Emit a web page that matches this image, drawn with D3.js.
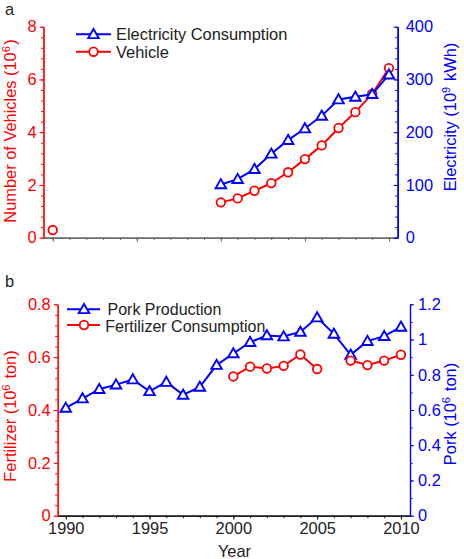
<!DOCTYPE html>
<html><head><meta charset="utf-8">
<script src="https://cdn.jsdelivr.net/npm/d3@7"></script>
<style>
body{margin:0;background:#fff;}
text{font-family:"Liberation Sans",Arial,sans-serif;}
</style></head>
<body><svg id="c" width="464" height="559"></svg>
<script>
// ---- data ----
const years = d3.range(1990, 2011);
const vehicleYears = [1990, 2000, 2001, 2002, 2003, 2004, 2005, 2006, 2007, 2008, 2009, 2010];
const vehicles = [0.29, 1.34, 1.49, 1.78, 2.07, 2.48, 2.98, 3.5, 4.16, 4.76, 5.45, 6.43];
const elecYears = [2000, 2001, 2002, 2003, 2004, 2005, 2006, 2007, 2008, 2009, 2010];
const electricity = [101, 111, 130, 159, 185, 207, 231, 262, 267, 272, 309];
const porkYears = years;
const pork = [0.612, 0.665, 0.718, 0.744, 0.773, 0.706, 0.759, 0.686, 0.731, 0.855, 0.921, 0.985, 1.023, 1.017, 1.043, 1.125, 1.032, 0.913, 0.991, 1.019, 1.072];
const fertYears = [2000, 2001, 2002, 2003, 2004, 2005, 2006, 2007, 2008, 2009, 2010];
const fertilizer = [0.527, 0.564, 0.557, 0.567, 0.610, 0.555, null, 0.587, 0.570, 0.587, 0.609];
const vehTicks = [0, 2, 4, 6, 8];
const elecTicks = [0, 100, 200, 300, 400];
const fertTicks = [0, 0.2, 0.4, 0.6, 0.8];
const porkTicks = [0, 0.2, 0.4, 0.6, 0.8, 1, 1.2];
const yearTicks = [1990, 1995, 2000, 2005, 2010];

const RED = "#ff0000", BLUE = "#0000ff";
const svg = d3.select("#c");
const fmt = d => String(+d.toFixed(2));
const FS = "16.4px";

function tri(g, pts, color) {
  g.selectAll(null).data(pts).enter().append("path")
    .attr("d", d3.symbol(d3.symbolTriangle, 48)())
    .attr("transform", d => `translate(${d[0]},${d[1]+0.8})`)
    .attr("fill", "#fff").attr("stroke", color).attr("stroke-width", 1.9);
}
function circ(g, pts, color) {
  g.selectAll(null).data(pts).enter().append("circle")
    .attr("cx", d => d[0]).attr("cy", d => d[1]).attr("r", 4.3)
    .attr("fill", "#fff").attr("stroke", color).attr("stroke-width", 1.8);
}
function styleAxis(g, color, fontColor) {
  g.selectAll("path.domain").attr("stroke", color).attr("stroke-width", 1.2);
  g.selectAll(".tick line").attr("stroke", color).attr("stroke-width", 1);
  g.selectAll("text").attr("fill", fontColor).style("font-size", FS)
    .style("font-family", '"Liberation Sans",Arial,sans-serif');
}
function minor(lo, hi, step) {
  const out = []; for (let v = lo; v <= hi + 1e-9; v += step) out.push(+v.toFixed(4)); return out;
}
function ytitle(x, y, parts, color) {
  const t = svg.append("text").attr("transform", `translate(${x},${y}) rotate(-90)`)
    .attr("text-anchor", "middle").attr("fill", color).style("font-size", FS);
  parts.forEach(p => {
    if (p.sup) {
      t.append("tspan").attr("dy", -6).style("font-size", "11px").text(p.t);
      t.append("tspan").attr("dy", 6).text("\u200a");
    } else t.append("tspan").text(p.t);
  });
}

// ---------------- Panel a ----------------
const xA = d3.scaleLinear().domain([1989.45, 2010.52]).range([43.5, 397.7]);
const yA = d3.scaleLinear().domain([0, 8]).range([237.7, 26.7]);
const yE = d3.scaleLinear().domain([0, 400]).range([237.7, 26.7]);

const gxA = svg.append("g").attr("transform", `translate(0,${yA(0)})`);
gxA.call(d3.axisBottom(xA).tickValues(years).tickSize(2.5).tickSizeOuter(0).tickFormat(""));
gxA.append("g").call(d3.axisBottom(xA).tickValues(yearTicks).tickSize(4).tickSizeOuter(0).tickFormat(""));
styleAxis(gxA, "#666", "#666");

const gyA = svg.append("g").attr("transform", `translate(${xA.range()[0]},0)`);
gyA.call(d3.axisLeft(yA).tickValues(minor(0, 8, 0.4)).tickSize(2.5).tickSizeOuter(0).tickFormat(""));
gyA.append("g").call(d3.axisLeft(yA).tickValues(vehTicks).tickSize(4).tickSizeOuter(0).tickPadding(3).tickFormat(fmt));
styleAxis(gyA, RED, RED);

const gyE = svg.append("g").attr("transform", `translate(${xA.range()[1]},0)`);
gyE.call(d3.axisLeft(yE).tickValues(minor(0, 400, 20)).tickSize(2.5).tickSizeOuter(0).tickFormat(""));
gyE.append("g").call(d3.axisRight(yE).tickValues(elecTicks).tickSize(0).tickSizeOuter(0).tickPadding(8).tickFormat(fmt));
gyE.append("g").call(d3.axisLeft(yE).tickValues(elecTicks).tickSize(4).tickSizeOuter(0).tickFormat(""));
styleAxis(gyE, BLUE, BLUE);

const line = d3.line().defined(d => d[1] != null);
const elecPts = elecYears.map((y, i) => [xA(y), yE(electricity[i])]);
const vehPts = vehicleYears.map((y, i) => [xA(y), yA(vehicles[i])]);
const vehLinePts = vehPts.slice(1);
const pA = svg.append("g");
pA.append("path").attr("d", line(vehLinePts)).attr("fill", "none").attr("stroke", RED).attr("stroke-width", 2);
circ(pA, vehPts, RED);
pA.append("path").attr("d", line(elecPts)).attr("fill", "none").attr("stroke", BLUE).attr("stroke-width", 2);
tri(pA, elecPts, BLUE);

const lgA = svg.append("g");
lgA.append("line").attr("x1", 76).attr("x2", 111).attr("y1", 34.3).attr("y2", 34.3).attr("stroke", BLUE).attr("stroke-width", 2);
tri(lgA, [[93.5, 34.3]], BLUE);
lgA.append("text").attr("x", 116).attr("y", 40).attr("fill", "#222").style("font-size", FS).text("Electricity Consumption");
lgA.append("line").attr("x1", 76).attr("x2", 111).attr("y1", 51.7).attr("y2", 51.7).attr("stroke", RED).attr("stroke-width", 2);
circ(lgA, [[93.5, 51.7]], RED);
lgA.append("text").attr("x", 116).attr("y", 57.5).attr("fill", "#222").style("font-size", FS).text("Vehicle");

ytitle(15.5, 131, [{t: "Number of Vehicles (10"}, {t: "6", sup: true}, {t: ")"}], RED);
ytitle(455.5, 117, [{t: "Electricity (10"}, {t: "9", sup: true}, {t: " kWh)"}], BLUE);
svg.append("text").attr("x", 5).attr("y", 15).attr("fill", "#222").style("font-size", FS).text("a");

// ---------------- Panel b ----------------
const xB = d3.scaleLinear().domain([1989.52, 2010.54]).range([57.7, 410]);
const yF = d3.scaleLinear().domain([0, 0.8]).range([515.7, 304.3]);
const yP = d3.scaleLinear().domain([0, 1.2]).range([515.7, 304.3]);

const gxB = svg.append("g").attr("transform", `translate(0,${yF(0)})`);
gxB.call(d3.axisBottom(xB).tickValues(years).tickSize(2.5).tickSizeOuter(0).tickFormat(""));
gxB.append("g").call(d3.axisBottom(xB).tickValues(yearTicks).tickSize(4).tickSizeOuter(0).tickPadding(3).tickFormat(d3.format("d")));
styleAxis(gxB, "#111", "#222");

const gyF = svg.append("g").attr("transform", `translate(${xB.range()[0]},0)`);
gyF.call(d3.axisLeft(yF).tickValues(minor(0, 0.8, 0.04)).tickSize(2.5).tickSizeOuter(0).tickFormat(""));
gyF.append("g").call(d3.axisLeft(yF).tickValues(fertTicks).tickSize(4).tickSizeOuter(0).tickPadding(3).tickFormat(fmt));
styleAxis(gyF, RED, RED);

const gyP = svg.append("g").attr("transform", `translate(${xB.range()[1]},0)`);
gyP.call(d3.axisRight(yP).tickValues(minor(0, 1.2, 0.1)).tickSize(2.5).tickSizeOuter(0).tickFormat(""));
gyP.append("g").call(d3.axisRight(yP).tickValues(porkTicks).tickSize(4).tickSizeOuter(0).tickPadding(4).tickFormat(fmt));
styleAxis(gyP, BLUE, BLUE);

const porkPts = porkYears.map((y, i) => [xB(y), yP(pork[i])]);
const fertPts = fertYears.map((y, i) => [xB(y), fertilizer[i] == null ? null : yF(fertilizer[i])]);
const pB = svg.append("g");
pB.append("path").attr("d", line(porkPts)).attr("fill", "none").attr("stroke", BLUE).attr("stroke-width", 2);
tri(pB, porkPts, BLUE);
pB.append("path").attr("d", line(fertPts)).attr("fill", "none").attr("stroke", RED).attr("stroke-width", 2);
circ(pB, fertPts.filter(d => d[1] != null), RED);

const lgB = svg.append("g");
lgB.append("line").attr("x1", 67).attr("x2", 100).attr("y1", 309.3).attr("y2", 309.3).attr("stroke", BLUE).attr("stroke-width", 2);
tri(lgB, [[84, 309.3]], BLUE);
lgB.append("text").attr("x", 107.5).attr("y", 314.5).attr("fill", "#222").style("font-size", "16px").text("Pork Production");
lgB.append("line").attr("x1", 67).attr("x2", 100).attr("y1", 325).attr("y2", 325).attr("stroke", RED).attr("stroke-width", 2);
circ(lgB, [[84, 325]], RED);
lgB.append("text").attr("x", 105.3).attr("y", 331.5).attr("fill", "#222").style("font-size", "16px").text("Fertilizer Consumption");

ytitle(15.5, 416, [{t: "Fertilizer (10"}, {t: "6", sup: true}, {t: " ton)"}], RED);
ytitle(455.5, 414, [{t: "Pork (10"}, {t: "6", sup: true}, {t: " ton)"}], BLUE);
svg.append("text").attr("x", 5).attr("y", 287).attr("fill", "#222").style("font-size", FS).text("b");
svg.append("text").attr("x", 234.5).attr("y", 557).attr("text-anchor", "middle").attr("fill", "#222").style("font-size", FS).text("Year");
</script></body></html>
